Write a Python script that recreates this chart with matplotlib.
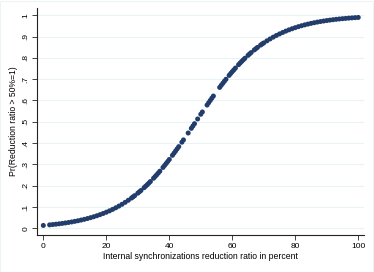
import matplotlib
matplotlib.use("Agg")
import matplotlib.pyplot as plt

# values
ratio = [0, 2, 3, 4, 5, 6, 7, 8, 9, 10, 11, 12, 13, 14, 15, 16, 17, 18, 19, 20,
         21, 22, 23, 24, 25, 26, 27, 28, 29, 30, 31, 32, 33, 34, 35, 36, 37, 38, 39, 40,
         41, 42, 43, 44, 46, 47, 48, 49, 50, 52, 53, 54, 56, 57, 58, 59, 60,
         61, 62, 63, 64, 65, 66, 67, 68, 69, 70, 71, 72, 73, 74, 75, 76, 77, 78, 79, 80,
         81, 82, 83, 84, 85, 86, 87, 88, 89, 90, 91, 92, 93, 94, 95, 96, 97, 98, 99, 100]
prob = [0.0139, 0.0166, 0.0181, 0.0197, 0.0215, 0.0234, 0.0255, 0.0278, 0.0303, 0.0330,
        0.0359, 0.0391, 0.0425, 0.0462, 0.0503, 0.0547, 0.0594, 0.0645, 0.0700, 0.0759,
        0.0823, 0.0892, 0.0966, 0.1046, 0.1131, 0.1223, 0.1320, 0.1424, 0.1536, 0.1653,
        0.1778, 0.1910, 0.2050, 0.2198, 0.2352, 0.2513, 0.2683, 0.2859, 0.3042, 0.3232,
        0.3427, 0.3628, 0.3834, 0.4044, 0.4474, 0.4693, 0.4912, 0.5133, 0.5353,
        0.5786, 0.5999, 0.6208, 0.6613, 0.6807, 0.6995, 0.7177, 0.7352,
        0.7520, 0.7680, 0.7833, 0.7978, 0.8117, 0.8247, 0.8371, 0.8488, 0.8598, 0.8700,
        0.8797, 0.8886, 0.8971, 0.9049, 0.9122, 0.9190, 0.9253, 0.9312, 0.9366, 0.9416,
        0.9463, 0.9506, 0.9546, 0.9582, 0.9616, 0.9647, 0.9676, 0.9702, 0.9727, 0.9749,
        0.9770, 0.9789, 0.9807, 0.9823, 0.9837, 0.9850, 0.9863, 0.9874, 0.9885, 0.9894]

# extra observations in the steep middle part
ratio_mid = [28.5, 30.5, 32.5, 33.5, 35.5, 36.5, 38.5, 39.5, 41.5, 42.5, 44.5, 47.5,
             50.5, 52.5, 53.5, 56.5, 57.5, 59.5, 60.5, 62.5, 63.5, 65.5, 67.5, 69.5]
prob_mid = [0.1479, 0.1715, 0.1980, 0.2123, 0.2432, 0.2597, 0.2951, 0.3137, 0.3527,
            0.3731, 0.4151, 0.4803, 0.5461, 0.5893, 0.6105, 0.6711, 0.6901, 0.7267,
            0.7435, 0.7758, 0.7906, 0.8183, 0.8431, 0.8651]

xticks = [0, 20, 40, 60, 80, 100]
yticks = [0, 0.1, 0.2, 0.3, 0.4, 0.5, 0.6, 0.7, 0.8, 0.9, 1]
ylabels = ["0", ".1", ".2", ".3", ".4", ".5", ".6", ".7", ".8", ".9", "1"]

plt.rcParams['font.family'] = ['Liberation Sans', 'DejaVu Sans']

fig = plt.figure(figsize=(3.74, 2.72), dpi=100)
fig.patch.set_facecolor("white")
ax = fig.add_axes([0.099, 0.136, 0.874, 0.834])

dot = "#223d6b"
ax.scatter(ratio, prob, s=13, color=dot, edgecolors="none", zorder=3)
ax.scatter(ratio_mid, prob_mid, s=13, color=dot, edgecolors="none", zorder=3)

ax.set_xlim(-2.0, 101.8)
ax.set_ylim(-0.031, 1.033)
ax.set_xticks(xticks)
ax.set_yticks(yticks)
ax.set_yticklabels(ylabels, rotation=90, va="center")
ax.tick_params(labelsize=6, length=3.5, width=0.6, color="#222222", pad=2)
ax.grid(axis="y", color="#eaf2f3", linewidth=0.8, zorder=0)

for side in ["top", "right"]:
    ax.spines[side].set_visible(False)
for side in ["left", "bottom"]:
    ax.spines[side].set_linewidth(0.8)
    ax.spines[side].set_color("#222222")

ax.set_xlabel("Internal synchronizations reduction ratio in percent", fontsize=6.2, labelpad=2)
ax.set_ylabel("Pr(Reduction ratio > 50%=1)", fontsize=6.2, labelpad=3)

# faint outer frame of the graph region
fig.add_artist(plt.Rectangle((0.001, 0.001), 0.997, 0.997, transform=fig.transFigure,
                             fill=False, edgecolor="#eef3f4", linewidth=0.8))

fig.savefig("out.png", dpi=100)
